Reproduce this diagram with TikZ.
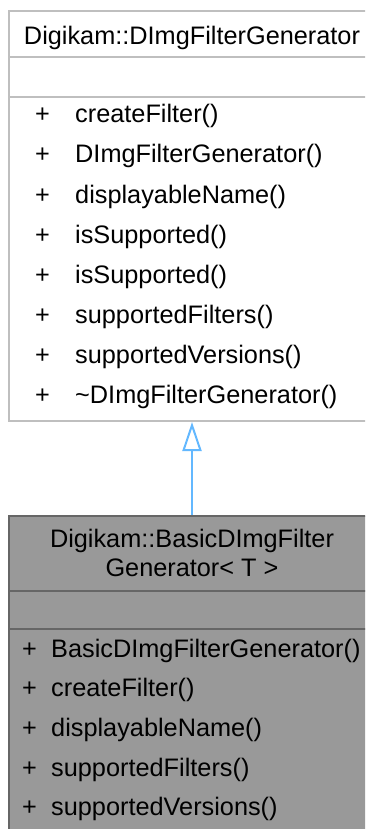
\documentclass[tikz,border=0pt]{standalone}
\usepackage{fontspec}
\setmainfont{Liberation Sans}
\usetikzlibrary{arrows.meta}
\definecolor{topborder}{HTML}{BFBFBF}
\definecolor{botfill}{HTML}{999999}
\definecolor{botborder}{HTML}{666666}
\definecolor{inherit}{HTML}{63B8FF}
\begin{document}
\begin{tikzpicture}[x=1pt,y=-1pt,
  umltext/.style={inner sep=0pt, anchor=base west, font=\fontsize{25.3}{30}\selectfont},
  umltitle/.style={inner sep=0pt, anchor=base, font=\fontsize{25.3}{30}\selectfont, align=center},
  topbox/.style={draw=topborder, fill=white, line width=2pt, inner sep=0pt},
  botbox/.style={draw=botborder, fill=botfill, line width=2pt, inner sep=0pt},
  toprule/.style={draw=topborder, line width=2pt},
  botrule/.style={draw=botborder, line width=2pt}]
\useasboundingbox (0,0) rectangle (365,829);
\clip (0,0) rectangle (365,829);
% top class
\node[topbox, minimum width=366pt, minimum height=410pt] (base) at (192,216) {};
\draw[toprule] (9,57) -- (375,57);
\draw[toprule] (9,97) -- (375,97);
\node[umltitle] (basetitle) at (192,45) {Digikam::DImgFilterGenerator};
\foreach \i/\t in {0/createFilter(),1/DImgFilterGenerator(),2/displayableName(),3/isSupported(),4/isSupported(),5/supportedFilters(),6/supportedVersions(),7/\textasciitilde DImgFilterGenerator()}{
  \node[umltext] (bp\i) at (35,123+40*\i) {+};
  \node[umltext] (bm\i) at (75,123+40*\i) {\t};
}
% derived class
\node[botbox, minimum width=366pt, minimum height=330pt] (derived) at (192,681) {};
\draw[botrule] (9,591) -- (375,591);
\draw[botrule] (9,629) -- (375,629);
\node[umltitle] (dtitle1) at (192,547) {Digikam::BasicDImgFilter};
\node[umltitle] (dtitle2) at (192,576) {Generator<~T~>};
\foreach \i/\t in {0/BasicDImgFilterGenerator(),1/createFilter(),2/displayableName(),3/supportedFilters(),4/supportedVersions()}{
  \node[umltext] (dp\i) at (22,657+39.7*\i) {+};
  \node[umltext] (dm\i) at (51,657+39.7*\i) {\t};
}
% inheritance
\draw[draw=inherit, line width=2pt, -{Triangle[open, length=29pt, width=19pt, line width=2pt]}] (derived.north) -- (base.south);
\end{tikzpicture}
\end{document}
